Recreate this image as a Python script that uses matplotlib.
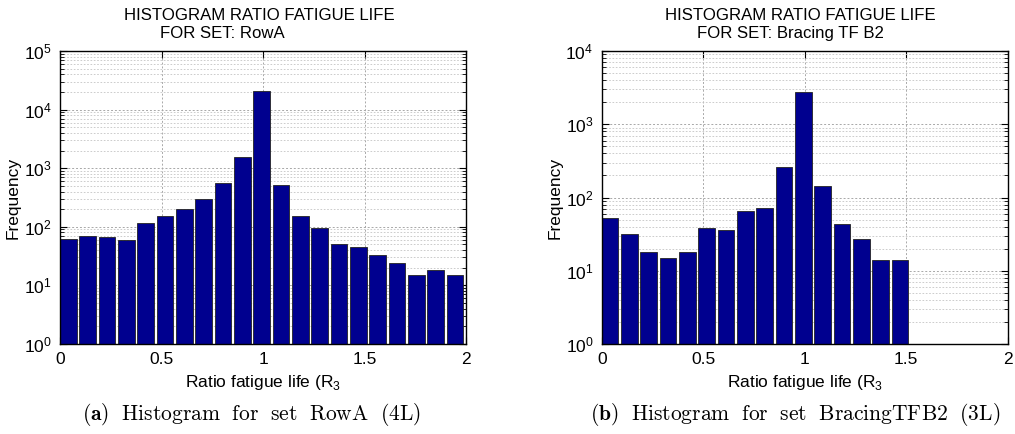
import numpy as np
import matplotlib
matplotlib.use("Agg")
import matplotlib.pyplot as plt
from matplotlib.ticker import LogLocator, NullFormatter, FixedLocator

plt.rcParams['font.family'] = ['Liberation Sans', 'DejaVu Sans']

# Histogram counts per bin (21 equal bins over ratio 0..2)
n_bins = 21
x_min, x_max = 0.0, 2.0
counts_rowa = [62, 69, 66, 59, 115, 149, 199, 294, 559, 1550, 20700,
               510, 149, 95, 50, 44, 32, 23, 14, 17, 14]
counts_bracing = [51, 31, 17, 14, 17, 37, 35, 65, 71, 261, 2730,
                  142, 42, 26, 13, 13, 0, 0, 0, 0, 0]

titles = ["HISTOGRAM RATIO FATIGUE LIFE", "HISTOGRAM RATIO FATIGUE LIFE"]
subtitles = ["FOR SET: RowA", "FOR SET: Bracing TF B2"]
captions = [r"$\mathbf{(a)}\ \ \mathrm{Histogram\ \ for\ \ set\ \ RowA\ \ (4L)}$",
            r"$\mathbf{(b)}\ \ \mathrm{Histogram\ \ for\ \ set\ \ BracingTFB2\ \ (3L)}$"]
y_tops = [1e5, 1e4]
x_ticks = [0, 0.5, 1, 1.5, 2]
x_ticklabels = ["0", "0.5", "1", "1.5", "2"]

W, H = 1015, 434
fig = plt.figure(figsize=(W / 100, H / 100), dpi=100)

ax_left_px = [60, 601.7]
ax_w_px, ax_top_px, ax_bot_px = 406, 51, 344
ax_h_px = ax_bot_px - ax_top_px
subtitle_centers = [0.40, 0.465]
caption_centers_px = [252, 795]

bar_color = "#00008F"
edges = np.linspace(x_min, x_max, n_bins + 1)[:-1]
bin_w = (x_max - x_min) / n_bins

for i, counts in enumerate([counts_rowa, counts_bracing]):
    ax = fig.add_axes([ax_left_px[i] / W, 1 - ax_bot_px / H,
                       ax_w_px / W, ax_h_px / H])
    ax.set_yscale("log")
    counts = np.asarray(counts, dtype=float)
    mask = counts > 0
    ax.bar(edges[mask], counts[mask], width=bin_w * 0.86, align="edge",
           bottom=1, color=bar_color, edgecolor="#222222", linewidth=0.6,
           zorder=3)
    ax.set_xlim(x_min, x_max)
    ax.set_ylim(1, y_tops[i])
    ax.xaxis.set_major_locator(FixedLocator(x_ticks))
    ax.set_xticklabels(x_ticklabels)
    ax.yaxis.set_major_locator(LogLocator(base=10, numticks=10))
    ax.yaxis.set_minor_locator(LogLocator(base=10, subs=np.arange(2, 10), numticks=10))
    ax.yaxis.set_minor_formatter(NullFormatter())

    ax.grid(True, which="major", axis="both", color="#a8a8a8",
            linestyle=(0, (2, 2)), linewidth=0.7, zorder=0)
    ax.grid(True, which="minor", axis="y", color="#c4c4c4",
            linestyle=(0, (2, 2)), linewidth=0.6, zorder=0)

    ax.tick_params(which="both", direction="in", top=True, right=True,
                   labelsize=12.5, colors="black")
    ax.tick_params(which="major", length=5, width=0.8, pad=6)
    ax.tick_params(which="minor", length=3, width=0.6)
    for s in ax.spines.values():
        s.set_linewidth(1.0)
        s.set_zorder(5)

    ax.set_ylabel("Frequency", fontsize=12.5, labelpad=2)
    ax.set_xlabel(r"Ratio fatigue life (R$_{\mathregular{3}}$", fontsize=12.5,
                  labelpad=4)

    # two-line heading above the axes
    ax.text(0.49, 1 + (ax_top_px - 20) / ax_h_px, titles[i],
            transform=ax.transAxes, ha="center", va="baseline", fontsize=12.1)
    ax.text(subtitle_centers[i], 1 + (ax_top_px - 38) / ax_h_px, subtitles[i],
            transform=ax.transAxes, ha="center", va="baseline", fontsize=12.1)

    fig.text(caption_centers_px[i] / W, 1 - 420 / H, captions[i],
             ha="center", va="baseline", fontsize=15.5, math_fontfamily="cm")

fig.savefig("out.png", dpi=100)
